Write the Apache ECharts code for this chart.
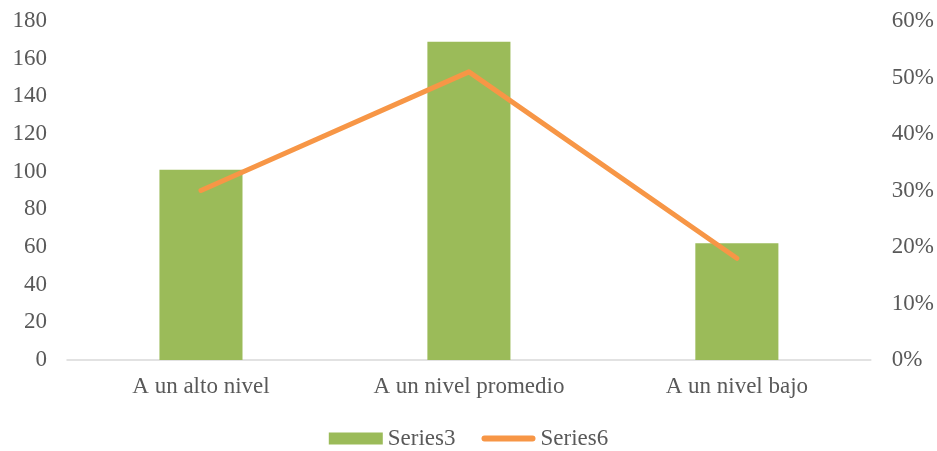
<!DOCTYPE html>
<html>
<head>
<meta charset="utf-8">
<script src="https://cdn.jsdelivr.net/npm/echarts@6/dist/echarts.min.js"></script>
<style>
  html, body { margin: 0; padding: 0; background: #fff; }
  #chart { width: 937px; height: 451px; }
</style>
</head>
<body>
<div id="chart"></div>
<script>
// Categories and series values
const categories = ['A un alto nivel', 'A un nivel promedio', 'A un nivel bajo'];
const series3 = [101, 169, 62];
const series6 = [0.30, 0.51, 0.18];

const textColor = '#595959';
const fontFamily = '"Liberation Serif", "Times New Roman", serif';
const fontSize = 23;

const chart = echarts.init(document.getElementById('chart'));
chart.setOption({
  animation: false,
  textStyle: { fontFamily: fontFamily },
  grid: { left: 67, right: 66, top: 21, bottom: 91 },
  legend: {
    bottom: -4,
    left: 'center',
    itemGap: 26,
    itemWidth: 54,
    itemHeight: 12,
    textStyle: { color: textColor, fontSize: fontSize, fontFamily: fontFamily },
    data: [
      { name: 'Series3', icon: 'rect' },
      // thick rounded stroke for the line series
      { name: 'Series6', icon: 'path://M3,0 H51 A3,3 0 0 1 51,6 H3 A3,3 0 0 1 3,0 Z' }
    ]
  },
  xAxis: {
    type: 'category',
    data: categories,
    axisLine: { lineStyle: { color: '#D9D9D9', width: 1.5 } },
    axisTick: { show: false },
    axisLabel: { color: textColor, fontSize: fontSize, margin: 15 }
  },
  yAxis: [
    {
      type: 'value',
      min: 0, max: 180, interval: 20,
      splitLine: { show: false },
      axisLine: { show: false },
      axisTick: { show: false },
      axisLabel: { color: textColor, fontSize: fontSize, margin: 20 }
    },
    {
      type: 'value',
      min: 0, max: 0.6, interval: 0.1,
      splitLine: { show: false },
      axisLine: { show: false },
      axisTick: { show: false },
      axisLabel: {
        color: textColor, fontSize: fontSize, margin: 21,
        formatter: v => Math.round(v * 100) + '%'
      }
    }
  ],
  series: [
    {
      name: 'Series3',
      type: 'bar',
      data: series3,
      barWidth: '31%',
      itemStyle: { color: '#9BBB59' }
    },
    {
      name: 'Series6',
      type: 'line',
      yAxisIndex: 1,
      data: series6,
      symbol: 'none',
      lineStyle: { color: '#F79646', width: 5, cap: 'round', join: 'round' },
      itemStyle: { color: '#F79646' }
    }
  ]
});
</script>
</body>
</html>
